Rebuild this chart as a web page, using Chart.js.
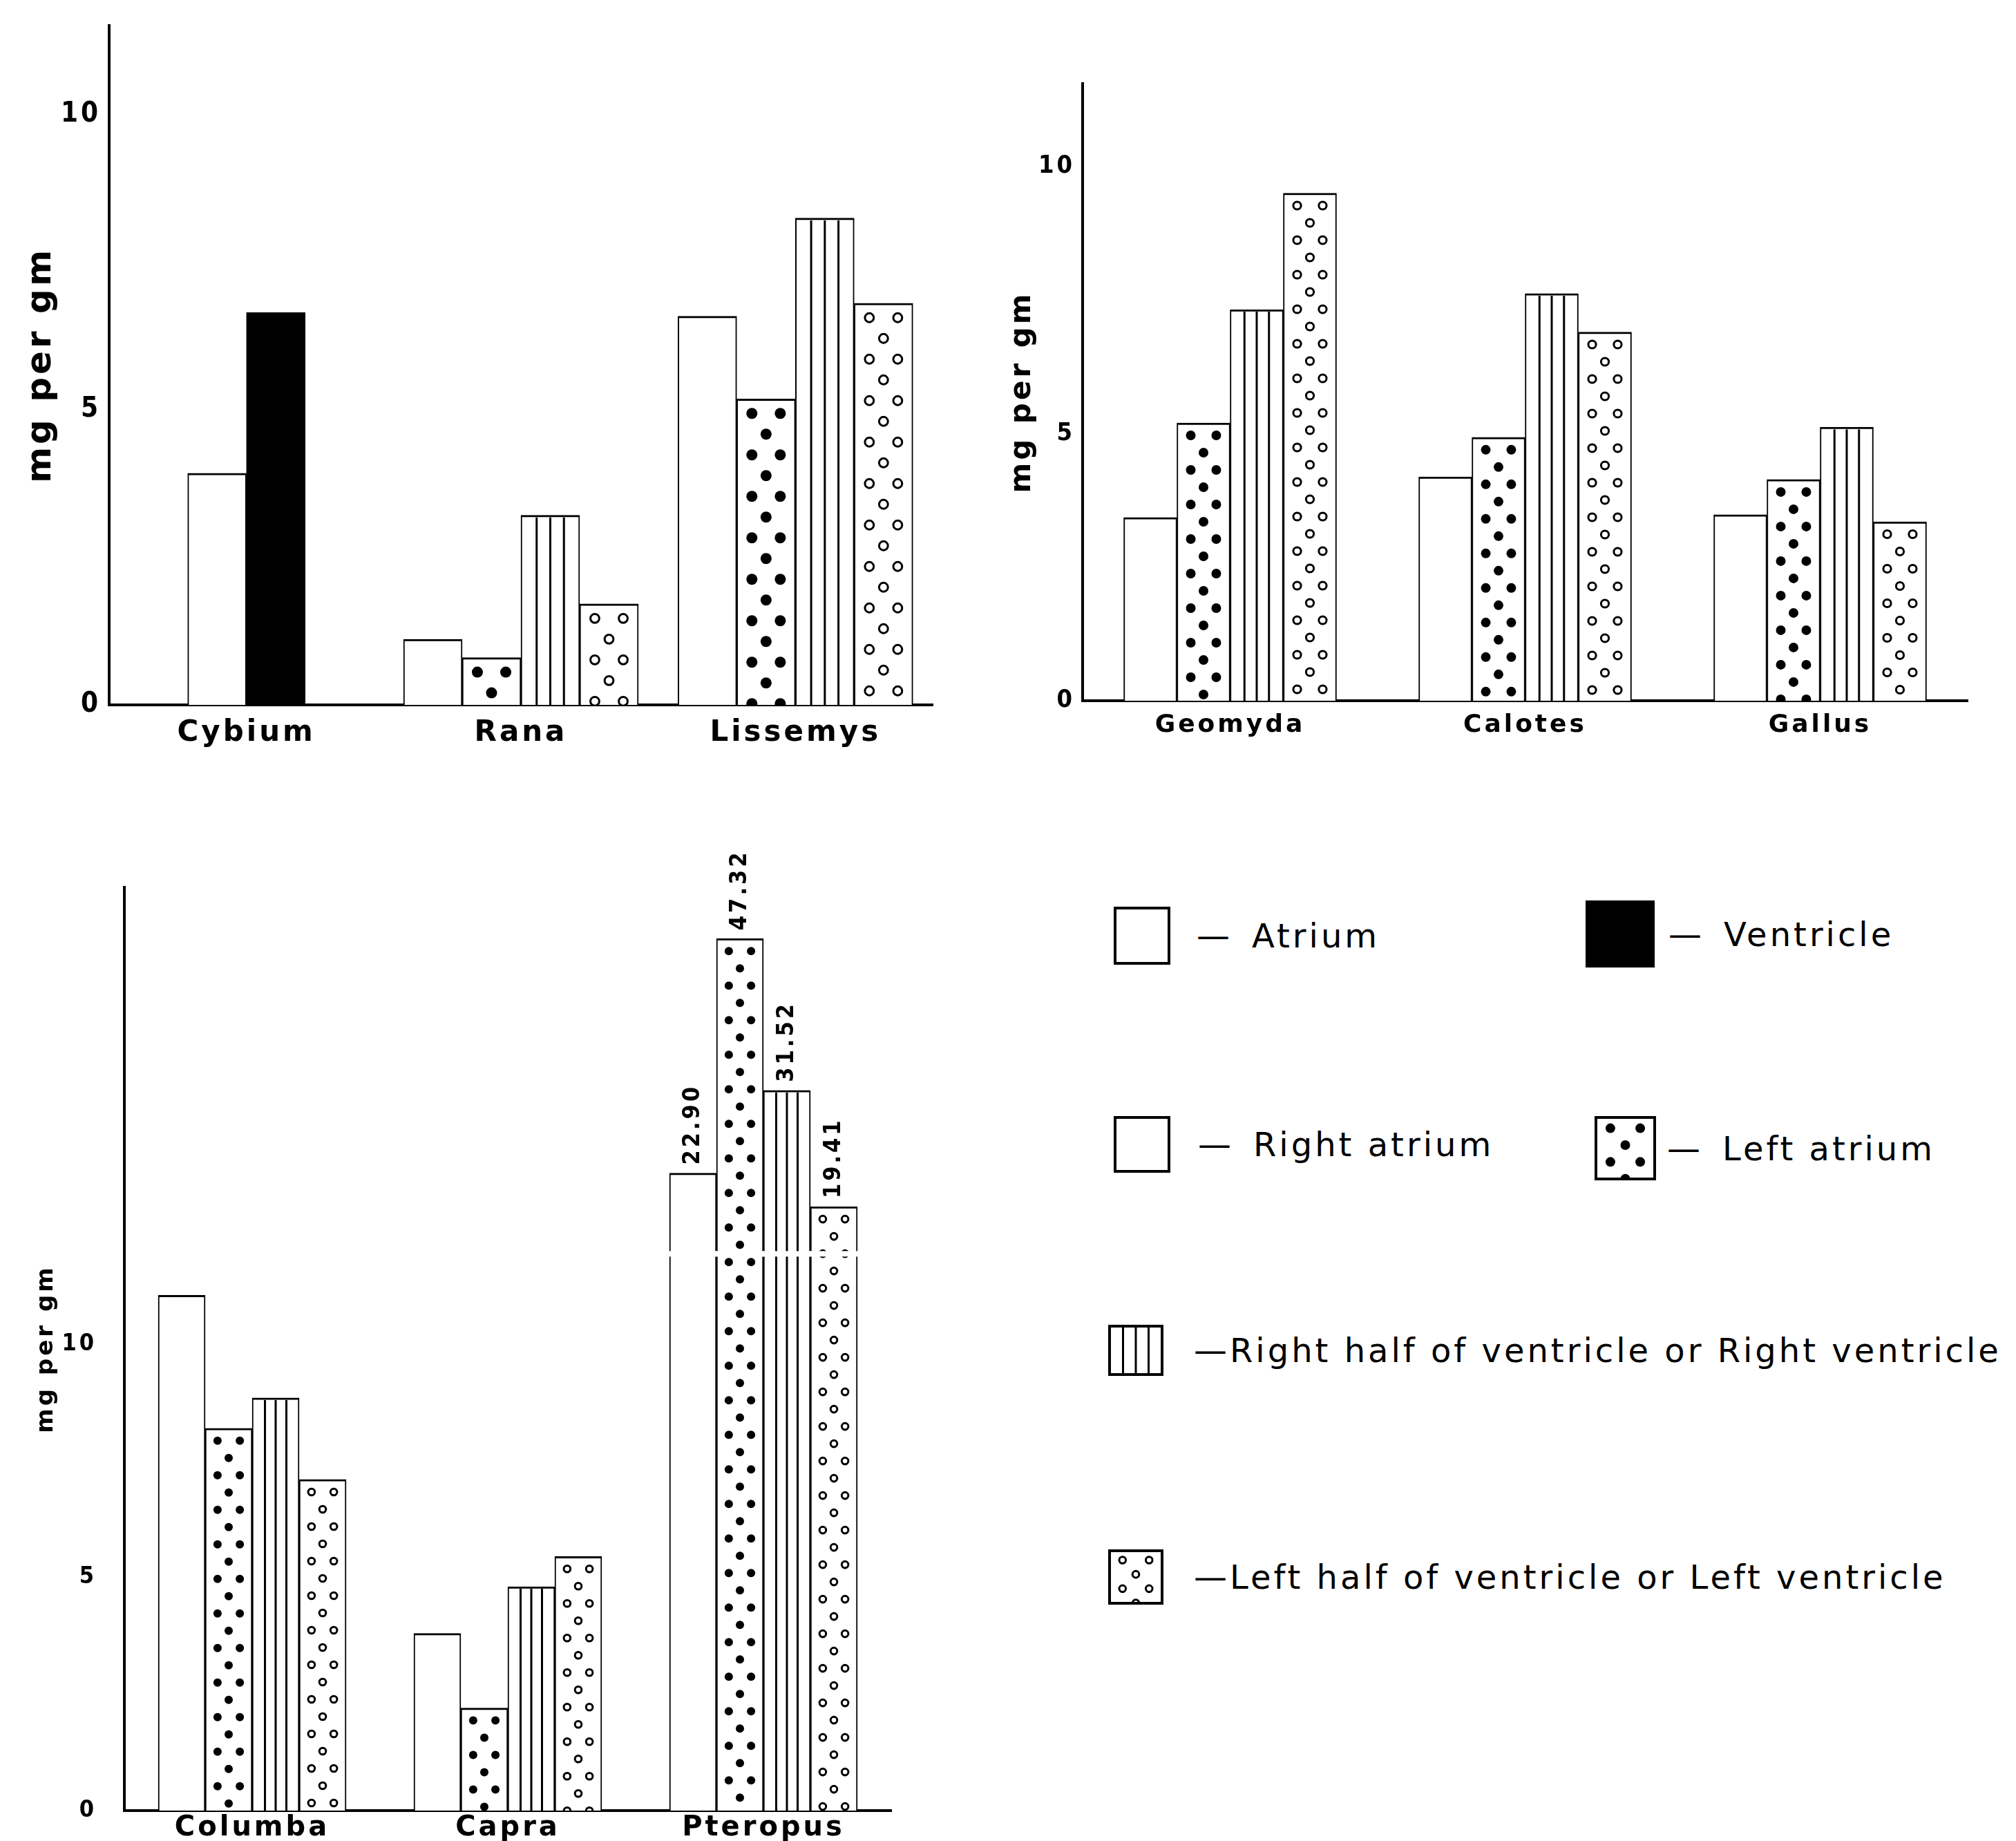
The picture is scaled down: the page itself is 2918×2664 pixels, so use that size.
<!DOCTYPE html>
<html>
<head>
<meta charset="utf-8">
<title>Heart chambers, mg per gm</title>
<script src="https://cdn.jsdelivr.net/npm/chart.js@4.4.1/dist/chart.umd.min.js"></script>
<style>
  html, body { margin: 0; background: #fff; }
  body { position: relative; width: 2918px; height: 2664px; overflow: hidden; font-family: 'DejaVu Sans', sans-serif; color: #000; }
  body > canvas { position: absolute; }
  .key { position: absolute; display: flex; align-items: center; font-size: 48px; letter-spacing: 4px; white-space: pre; }
</style>
</head>
<body>
<canvas id="fish" width="1440" height="1120" style="left:0;top:0"></canvas>
<canvas id="reptiles" width="1478" height="1120" style="left:1440px;top:0"></canvas>
<canvas id="mammals" width="1440" height="1560" style="left:0;top:1150px"></canvas>

<div class="key" style="left:1612px;top:1312px;gap:38px"><canvas width="82" height="84"></canvas><span></span></div>
<div class="key" style="left:2295px;top:1303px;gap:20px"><canvas width="100" height="97"></canvas><span></span></div>
<div class="key" style="left:1612px;top:1615px;gap:40px"><canvas width="82" height="82"></canvas><span></span></div>
<div class="key" style="left:2308px;top:1615px;gap:16px"><canvas width="89" height="93"></canvas><span></span></div>
<div class="key" style="left:1604px;top:1917px;gap:44px"><canvas width="80" height="74"></canvas><span></span></div>
<div class="key" style="left:1604px;top:2242px;gap:44px"><canvas width="80" height="80"></canvas><span></span></div>

<script>
// mg per gm
const yTicks = [0, 5, 10];

const cats1 = ['Cybium', 'Rana', 'Lissemys'];
const atrium1 = [3.92, null, null];
const ventricle1 = [6.64, null, null];
const rightAtrium1 = [null, 1.11, 6.58];
const leftAtrium1 = [null, 0.80, 5.18];
const rightVentricle1 = [null, 3.21, 8.24];
const leftVentricle1 = [null, 1.71, 6.80];

const cats2 = ['Geomyda', 'Calotes', 'Gallus'];
const rightAtrium2 = [3.43, 4.19, 3.48];
const leftAtrium2 = [5.20, 4.93, 4.14];
const rightVentricle2 = [7.32, 7.62, 5.12];
const leftVentricle2 = [9.50, 6.90, 3.35];

const cats3 = ['Columba', 'Capra', 'Pteropus'];
const rightAtrium3 = [11.05, 3.8, 22.90];
const leftAtrium3 = [8.2, 2.2, 47.32];
const rightVentricle3 = [8.85, 4.8, 31.52];
const leftVentricle3 = [7.1, 5.45, 19.41];

const keyNames = ['Atrium', 'Ventricle', 'Right atrium', 'Left atrium',
  'Right half of ventricle or Right ventricle', 'Left half of ventricle or Left ventricle'];
const keyKinds = ['plain', 'solid', 'plain', 'dots', 'stripes', 'rings'];

// broken axis on the bottom chart: above the cut the scale restarts, compressed
const BREAK_AT = 11.94;
const RESUME_AT = 14.5;
const SQUEEZE = 0.206;

class BrokenScale extends Chart.LinearScale {
  static id = 'broken';
  static defaults = {};
  getPixelForValue(v) {
    if (v > BREAK_AT) v = BREAK_AT + (v - RESUME_AT) * SQUEEZE;
    return super.getPixelForValue(v);
  }
}
Chart.register(BrokenScale);

const FONT = "'DejaVu Sans', sans-serif";
const NARROW = "'DejaVu Sans Condensed', 'Liberation Sans Narrow', 'DejaVu Sans', sans-serif";

function paintTexture(ctx, kind, left, top, w, h, tex) {
  if (!kind || kind === 'plain' || h <= 0) return;
  ctx.save();
  ctx.beginPath();
  ctx.rect(left, top, w, h);
  ctx.clip();
  ctx.fillStyle = '#000';
  ctx.strokeStyle = '#000';
  ctx.lineWidth = 3;
  if (kind === 'solid') {
    ctx.fillRect(left, top, w, h);
  } else if (kind === 'stripes') {
    for (let k = 1; k < 4; k++) {
      const x = left + w * k / 4;
      ctx.beginPath();
      ctx.moveTo(x, top);
      ctx.lineTo(x, top + h);
      ctx.stroke();
    }
  } else {
    let row = 0;
    for (let y = top + tex.step * 0.6; y < top + h + tex.r; y += tex.step, row++) {
      const cols = row % 2 ? [0.5] : [0.24, 0.76];
      for (const f of cols) {
        ctx.beginPath();
        ctx.arc(left + w * f, y, kind === 'dots' ? tex.r : tex.r * 0.8, 0, Math.PI * 2);
        if (kind === 'dots') ctx.fill(); else ctx.stroke();
      }
    }
  }
  ctx.restore();
}

const spacing = {
  id: 'spacing',
  beforeDraw(chart) { chart.ctx.letterSpacing = '4px'; }
};

const texturePlugin = {
  id: 'texture',
  afterDatasetsDraw(chart, args, opts) {
    const ctx = chart.ctx;
    chart.data.datasets.forEach((ds, di) => {
      if (!ds.texture) return;
      chart.getDatasetMeta(di).data.forEach((el, i) => {
        if (ds.data[i] == null) return;
        const p = el.getProps(['x', 'y', 'base', 'width'], true);
        const inset = 3;
        paintTexture(ctx, ds.texture, p.x - p.width / 2 + inset, p.y + inset,
          p.width - 2 * inset, p.base - p.y - inset, { step: opts.step, r: opts.r });
      });
    });
  }
};

// white cut across the bars that pass the break, and their real values on top
const breakPlugin = {
  id: 'axisBreak',
  afterDatasetsDraw(chart) {
    const ctx = chart.ctx;
    const cutY = chart.scales.y.getPixelForValue(BREAK_AT);
    chart.data.datasets.forEach((ds, di) => {
      chart.getDatasetMeta(di).data.forEach((el, i) => {
        const v = ds.data[i];
        if (v == null || v <= BREAK_AT) return;
        const p = el.getProps(['x', 'y', 'width'], true);
        ctx.save();
        ctx.fillStyle = '#fff';
        ctx.fillRect(p.x - p.width / 2 - 1, cutY - 4, p.width + 2, 8);
        ctx.translate(p.x, p.y - 12);
        ctx.rotate(-Math.PI / 2);
        ctx.fillStyle = '#000';
        ctx.font = 'bold 34px ' + NARROW;
        ctx.textAlign = 'left';
        ctx.textBaseline = 'middle';
        ctx.fillText(v.toFixed(2), 0, 0);
        ctx.restore();
      });
    });
  }
};

function series(label, data, fill, texture) {
  return {
    label, data, texture,
    backgroundColor: fill,
    borderColor: '#000',
    borderWidth: { top: 3, left: 2, right: 2 },
    borderSkipped: 'start',
    skipNull: true
  };
}

function heartChart(id, o) {
  o.datasets.forEach(d => { d.barThickness = o.bar; });
  return new Chart(document.getElementById(id), {
    type: 'bar',
    data: { labels: o.labels, datasets: o.datasets },
    options: {
      responsive: false,
      animation: false,
      layout: { padding: o.padding },
      plugins: {
        legend: { display: false },
        tooltip: { enabled: false },
        texture: o.tex
      },
      scales: {
        x: {
          grid: { display: false, drawTicks: false },
          border: { color: '#000', width: 4 },
          ticks: { color: '#000', padding: o.xPad, font: { family: FONT, size: o.xFont, weight: 'bold' } },
          afterFit: s => { s.height = o.xHeight; }
        },
        y: {
          type: o.yType || 'linear',
          min: 0,
          max: o.max,
          grid: { display: false, drawTicks: false },
          border: { color: '#000', width: 4 },
          afterBuildTicks: s => { s.ticks = yTicks.map(v => ({ value: v })); },
          ticks: { color: '#000', padding: o.yPad, font: { family: NARROW, size: o.yFont, weight: 'bold' }, callback: v => String(v) },
          title: {
            display: true, text: 'mg per gm', color: '#000',
            padding: { top: o.titlePad, bottom: 0 },
            font: { family: FONT, size: o.titleFont, weight: 'bold', lineHeight: 1 }
          },
          afterFit: s => { s.width = o.yWidth; }
        }
      }
    },
    plugins: [spacing, texturePlugin].concat(o.extra || [])
  });
}

heartChart('fish', {
  labels: cats1,
  datasets: [
    series('Atrium', atrium1, '#fff'),
    series('Ventricle', ventricle1, '#000'),
    series('Right atrium', rightAtrium1, '#fff'),
    series('Left atrium', leftAtrium1, '#fff', 'dots'),
    series('Right ventricle', rightVentricle1, '#fff', 'stripes'),
    series('Left ventricle', leftVentricle1, '#fff', 'rings')
  ],
  bar: 85, max: 11.5,
  padding: { left: 0, top: 37, right: 90, bottom: 0 },
  yWidth: 158, xHeight: 100, xPad: 16, xFont: 42, yPad: 12, yFont: 40,
  titlePad: 35, titleFont: 50,
  tex: { step: 30, r: 8 }
});

heartChart('reptiles', {
  labels: cats2,
  datasets: [
    series('Right atrium', rightAtrium2, '#fff'),
    series('Left atrium', leftAtrium2, '#fff', 'dots'),
    series('Right ventricle', rightVentricle2, '#fff', 'stripes'),
    series('Left ventricle', leftVentricle2, '#fff', 'rings')
  ],
  bar: 77, max: 11.55,
  padding: { left: 0, top: 121, right: 70, bottom: 0 },
  yWidth: 127, xHeight: 106, xPad: 14, xFont: 36, yPad: 11, yFont: 36,
  titlePad: 19, titleFont: 42,
  tex: { step: 25, r: 7 }
});

heartChart('mammals', {
  labels: cats3,
  datasets: [
    series('Right atrium', rightAtrium3, '#fff'),
    series('Left atrium', leftAtrium3, '#fff', 'dots'),
    series('Right ventricle', rightVentricle3, '#fff', 'stripes'),
    series('Left ventricle', leftVentricle3, '#fff', 'rings')
  ],
  bar: 68, max: 19.8, yType: 'broken',
  padding: { left: 0, top: 134, right: 150, bottom: 0 },
  yWidth: 180, xHeight: 90, xPad: 2, xFont: 40, yPad: 40, yFont: 34,
  titlePad: 50, titleFont: 34,
  tex: { step: 25, r: 6 },
  extra: [breakPlugin]
});

// key
document.querySelectorAll('.key').forEach((el, i) => {
  const c = el.querySelector('canvas');
  const ctx = c.getContext('2d');
  const kind = keyKinds[i];
  paintTexture(ctx, kind, 3, 3, c.width - 6, c.height - 6, { step: (c.height - 6) * 0.28, r: kind === 'dots' ? 7 : 6 });
  ctx.strokeStyle = '#000';
  ctx.lineWidth = 4;
  ctx.strokeRect(2, 2, c.width - 4, c.height - 4);
  const long = keyNames[i].length > 15;
  el.querySelector('span').textContent = (long ? '\u2014' : '\u2014\u2002') + keyNames[i];
});
</script>
</body>
</html>
